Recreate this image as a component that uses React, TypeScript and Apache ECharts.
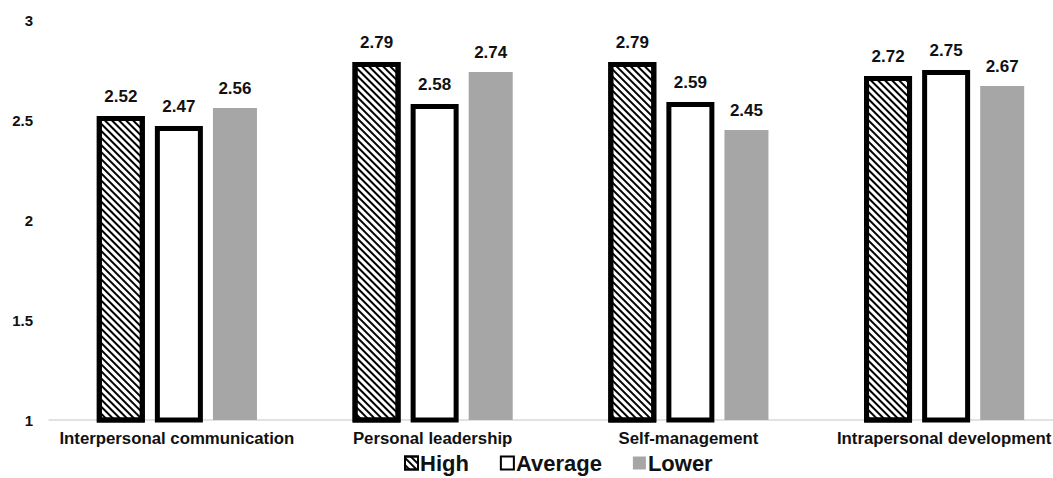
import React, { useEffect, useRef } from "react";
import * as echarts from "echarts";

const categories = ["Interpersonal communication", "Personal leadership", "Self-management", "Intrapersonal development"];
const highValues = [2.52, 2.79, 2.79, 2.72];
const averageValues = [2.47, 2.58, 2.59, 2.75];
const lowerValues = [2.56, 2.74, 2.45, 2.67];

export default function App() {
  const ref = useRef<HTMLDivElement>(null);
  useEffect(() => {
    if (!ref.current) return;
    const chart = echarts.init(ref.current, undefined, { renderer: "svg" });
    const font = "Liberation Sans, Arial, sans-serif";
    const label = {
      show: true,
      position: "top" as const,
      distance: 11,
      fontFamily: font,
      fontWeight: "bold" as const,
      fontSize: 17,
      color: "#111",
    };
    chart.setOption({
      animation: false,
      aria: { enabled: true, decal: { show: false } },
      grid: { left: 49, right: 0, top: 20, bottom: 58, containLabel: false },
      legend: {
        left: 399,
        top: 447,
        icon: "rect",
        itemWidth: 13,
        itemHeight: 13,
        itemGap: 31,
        textStyle: { fontFamily: font, fontWeight: "bold", fontSize: 22, color: "#111", padding: [0, 0, 0, -3] },
        data: ["High", "Average", "Lower"],
      },
      xAxis: {
        type: "category",
        data: categories,
        axisLine: { lineStyle: { color: "#d9d9d9", width: 1.5 } },
        axisTick: { show: false },
        axisLabel: { interval: 0, fontFamily: font, fontWeight: "bold", fontSize: 16.8, color: "#111", margin: 10 },
      },
      yAxis: {
        type: "value",
        min: 1,
        max: 3,
        interval: 0.5,
        splitLine: { show: false },
        axisLine: { show: false },
        axisTick: { show: false },
        axisLabel: { fontFamily: font, fontWeight: "bold", fontSize: 15, color: "#111", margin: 16 },
      },
      series: [
        {
          name: "High",
          type: "bar",
          data: highValues,
          barWidth: 48,
          barGap: "21%",
          itemStyle: {
            color: "#ffffff",
            borderColor: "#000",
            borderWidth: 5,
            decal: {
              symbol: "rect",
              color: "#000",
              backgroundColor: "#fff",
              dashArrayX: [1, 0],
              dashArrayY: [2, 3],
              rotation: Math.PI / 4,
            },
          },
          label,
        },
        {
          name: "Average",
          type: "bar",
          data: averageValues,
          barWidth: 48,
          barGap: "21%",
          itemStyle: { color: "#ffffff", borderColor: "#000", borderWidth: 5 },
          label,
        },
        {
          name: "Lower",
          type: "bar",
          data: lowerValues,
          barWidth: 44,
          barGap: "21%",
          itemStyle: { color: "#a6a6a6" },
          label,
        },
      ],
    });
    return () => chart.dispose();
  }, []);
  return (
    <div style={{ width: 1053, height: 478, position: "absolute", left: 0, top: 0, overflow: "hidden" }}>
      <div ref={ref} style={{ width: 1072, height: 478 }} />
    </div>
  );
}
